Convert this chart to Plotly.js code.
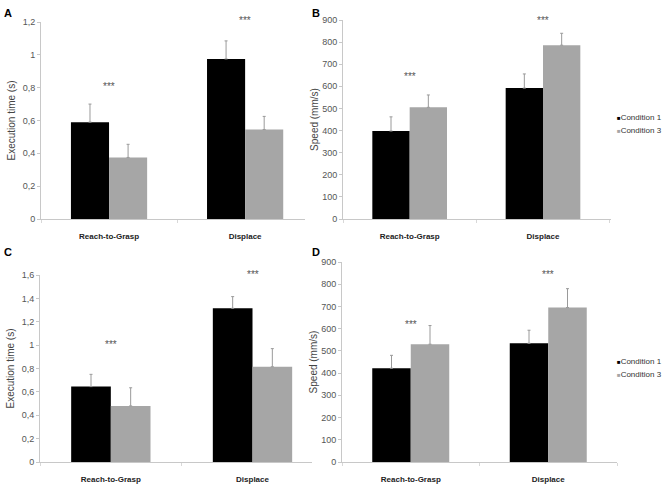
<!DOCTYPE html>
<html>
<head>
<meta charset="utf-8">
<script src="https://cdn.plot.ly/plotly-3.0.1.min.js"></script>
<style>html,body{margin:0;padding:0;background:#fff;}#chart{width:666px;height:488px;}</style>
</head>
<body>
<div id="chart"></div>
<script>
// ---- data ----
var categories = ["Reach-to-Grasp", "Displace"];
var seriesNames = ["Condition 1", "Condition 3"];

// Panel A: execution time (s)
var timeA_c1 = [0.59, 0.975];
var timeA_c1_err = [0.11, 0.11];
var timeA_c3 = [0.375, 0.545];
var timeA_c3_err = [0.08, 0.08];

// Panel B: speed (mm/s)
var speedB_c1 = [398, 592];
var speedB_c1_err = [64, 64];
var speedB_c3 = [505, 786];
var speedB_c3_err = [56, 54];

// Panel C: execution time (s)
var timeC_c1 = [0.645, 1.315];
var timeC_c1_err = [0.105, 0.10];
var timeC_c3 = [0.48, 0.815];
var timeC_c3_err = [0.155, 0.155];

// Panel D: speed (mm/s)
var speedD_c1 = [422, 534];
var speedD_c1_err = [58, 59];
var speedD_c3 = [530, 695];
var speedD_c3_err = [84, 85];

// significance markers (value level of the "***" per category)
var starsA = [0.82, 1.22];
var starsB = [652, 905];
var starsC = [1.02, 1.625];
var starsD = [627, 853];

var panelLetters = ["A", "B", "C", "D"];
var yTitles = ["Execution time (s)", "Speed (mm/s)", "Execution time (s)", "Speed (mm/s)"];
var yMax = [1.2, 900, 1.6, 900];

// ---- styles ----
var colC1 = "#000000";
var colC3 = "#a6a6a6";
var FONT = "Liberation Sans, Arial, sans-serif";

function barTrace(vals, errs, name, color, ax) {
  return {
    type: "bar",
    x: categories,
    y: vals,
    name: name,
    marker: {color: color, line: {width: 0}},
    error_y: {type: "data", array: errs, symmetric: false, arrayminus: [0, 0],
              color: "#9a9a9a", thickness: 1, width: 1.5},
    xaxis: "x" + ax, yaxis: "y" + ax,
    showlegend: false
  };
}

var data = [
  barTrace(timeA_c1, timeA_c1_err, seriesNames[0], colC1, ""),
  barTrace(timeA_c3, timeA_c3_err, seriesNames[1], colC3, ""),
  barTrace(speedB_c1, speedB_c1_err, seriesNames[0], colC1, "2"),
  barTrace(speedB_c3, speedB_c3_err, seriesNames[1], colC3, "2"),
  barTrace(timeC_c1, timeC_c1_err, seriesNames[0], colC1, "3"),
  barTrace(timeC_c3, timeC_c3_err, seriesNames[1], colC3, "3"),
  barTrace(speedD_c1, speedD_c1_err, seriesNames[0], colC1, "4"),
  barTrace(speedD_c3, speedD_c3_err, seriesNames[1], colC3, "4")
];

function xAxis(domain, anchor, range) {
  return {
    domain: domain, anchor: anchor, type: "category", range: range,
    showline: true, linecolor: "#c8c8c8", linewidth: 1,
    ticks: "outside", tickson: "boundaries", ticklen: 3, tickcolor: "#d8d8d8",
    showgrid: false, zeroline: false, ticklabelstandoff: 9,
    tickfont: {family: FONT, size: 8, color: "#222", weight: "bold"},
    automargin: false
  };
}
function yAxis(domain, anchor, range, dtick, title, standoff) {
  return {
    domain: domain, anchor: anchor, range: range, dtick: dtick,
    showline: true, linecolor: "#c8c8c8", linewidth: 1,
    ticks: "outside", ticklen: 3, tickcolor: "#c8c8c8",
    showgrid: false, zeroline: false,
    tickfont: {family: FONT, size: 9, color: "#555"},
    title: {text: title, font: {family: FONT, size: 10, color: "#444"}, standoff: standoff},
    automargin: false
  };
}

var W = 666, H = 488;
function xd(a, b) { return [a / W, b / W]; }
function yd(top, bottom) { return [1 - bottom / H, 1 - top / H]; }

var annotations = [];
function stars(xa, ya, vals, ymax) {
  for (var i = 0; i < vals.length; i++) {
    annotations.push({xref: xa, yref: ya + " domain", x: categories[i], y: vals[i] / ymax, text: "***",
      showarrow: false, font: {family: FONT, size: 10, color: "#555"},
      xanchor: "center", yanchor: "middle", yshift: -2});
  }
}
stars("x", "y", starsA, yMax[0]);
stars("x2", "y2", starsB, yMax[1]);
stars("x3", "y3", starsC, yMax[2]);
stars("x4", "y4", starsD, yMax[3]);

var letterPos = [[8, 13], [316, 13], [8, 252], [316, 252]];
for (var k = 0; k < panelLetters.length; k++) {
  annotations.push({xref: "paper", yref: "paper", x: letterPos[k][0] / W, y: 1 - letterPos[k][1] / H,
    text: "<b>" + panelLetters[k] + "</b>", showarrow: false,
    font: {family: FONT, size: 11, color: "#000"}, xanchor: "center", yanchor: "middle"});
}

// legend entries (B and D panels)
var legendRows = [[117, 130], [361, 374]];
var legendCols = [colC1, colC3];
for (var p = 0; p < legendRows.length; p++) {
  for (var s = 0; s < seriesNames.length; s++) {
    annotations.push({xref: "paper", yref: "paper", x: 615 / W, y: 1 - legendRows[p][s] / H,
      text: '<span style="color:' + legendCols[s] + ';font-size:6px">\u25A0</span>' + seriesNames[s],
      showarrow: false, font: {family: FONT, size: 8, color: "#333"},
      xanchor: "left", yanchor: "middle"});
  }
}

var layout = {
  width: W, height: H,
  margin: {l: 0, r: 0, t: 0, b: 0, autoexpand: false},
  paper_bgcolor: "#fff", plot_bgcolor: "#fff",
  separators: ", ",
  barmode: "group", bargap: 0.44, bargroupgap: 0,
  font: {family: FONT},
  showlegend: false,
  xaxis: xAxis(xd(41, 305), "y", [-0.5, 1.44]),
  yaxis: yAxis(yd(22, 219), "x", [0, yMax[0]], 0.2, yTitles[0], 5),
  xaxis2: xAxis(xd(343, 611), "y2", [-0.5, 1.51]),
  yaxis2: yAxis(yd(20, 219), "x2", [0, yMax[1]], 100, yTitles[1], 1),
  xaxis3: xAxis(xd(40, 312), "y3", [-0.5, 1.42]),
  yaxis3: yAxis(yd(275, 462), "x3", [0, yMax[2]], 0.2, yTitles[2], 5),
  xaxis4: xAxis(xd(342, 617), "y4", [-0.5, 1.5]),
  yaxis4: yAxis(yd(262, 462), "x4", [0, yMax[3]], 100, yTitles[3], 1),
  annotations: annotations
};

Plotly.newPlot("chart", data, layout, {staticPlot: true, displayModeBar: false});
</script>
</body>
</html>
